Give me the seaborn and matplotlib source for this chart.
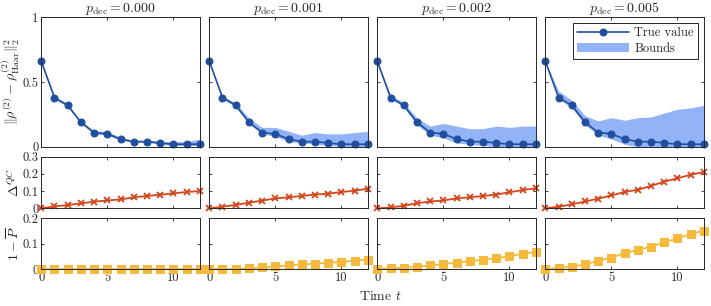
"""
Purity / distance / QC error over time for four decoherence rates
"""
import numpy as np
import pandas as pd
import matplotlib
matplotlib.use("Agg")
import matplotlib.pyplot as plt
import seaborn as sns

# ---- data ----
times = list(range(13))
p_dec = ["0.000", "0.001", "0.002", "0.005"]

true_value = [0.66, 0.38, 0.32, 0.19, 0.11, 0.10, 0.06, 0.04, 0.04, 0.03, 0.02, 0.02, 0.02]

bound_lo_0 = [0.66, 0.37, 0.31, 0.18, 0.10, 0.09, 0.05, 0.035, 0.035, 0.02, 0.01, 0.01, 0.01]
bound_hi_0 = [0.66, 0.39, 0.33, 0.20, 0.12, 0.12, 0.07, 0.05, 0.05, 0.04, 0.04, 0.04, 0.06]
bound_lo_1 = [0.66, 0.37, 0.31, 0.18, 0.10, 0.08, 0.04, 0.03, 0.02, 0.01, 0.005, 0.0, 0.0]
bound_hi_1 = [0.66, 0.39, 0.34, 0.22, 0.15, 0.15, 0.12, 0.09, 0.11, 0.10, 0.10, 0.11, 0.12]
bound_lo_2 = [0.66, 0.37, 0.31, 0.17, 0.09, 0.07, 0.03, 0.02, 0.01, 0.0, 0.0, 0.0, 0.0]
bound_hi_2 = [0.66, 0.40, 0.34, 0.22, 0.16, 0.18, 0.16, 0.14, 0.14, 0.16, 0.15, 0.16, 0.16]
bound_lo_3 = [0.66, 0.37, 0.30, 0.17, 0.09, 0.06, 0.02, 0.0, 0.0, 0.0, 0.0, 0.0, 0.0]
bound_hi_3 = [0.66, 0.43, 0.36, 0.24, 0.20, 0.225, 0.205, 0.225, 0.23, 0.26, 0.29, 0.30, 0.32]

delta_qc_0 = [0.0, 0.012, 0.019, 0.029, 0.039, 0.046, 0.052, 0.064, 0.072, 0.079, 0.087, 0.095, 0.100]
delta_qc_1 = [0.0, 0.010, 0.020, 0.033, 0.045, 0.058, 0.064, 0.072, 0.080, 0.085, 0.095, 0.102, 0.114]
delta_qc_2 = [0.0, 0.006, 0.015, 0.030, 0.040, 0.046, 0.058, 0.064, 0.072, 0.080, 0.093, 0.106, 0.116]
delta_qc_3 = [0.0, 0.010, 0.023, 0.040, 0.056, 0.075, 0.095, 0.108, 0.130, 0.155, 0.174, 0.195, 0.210]

infid_0 = [0.0] * 13
infid_1 = [0.0, 0.0, 0.0, 0.002, 0.006, 0.010, 0.014, 0.018, 0.021, 0.024, 0.028, 0.032, 0.037]
infid_2 = [0.0, 0.003, 0.005, 0.009, 0.014, 0.020, 0.025, 0.030, 0.036, 0.042, 0.050, 0.060, 0.067]
infid_3 = [0.0, 0.004, 0.009, 0.018, 0.033, 0.045, 0.062, 0.075, 0.088, 0.105, 0.120, 0.137, 0.151]

bounds_lo = [bound_lo_0, bound_lo_1, bound_lo_2, bound_lo_3]
bounds_hi = [bound_hi_0, bound_hi_1, bound_hi_2, bound_hi_3]
delta_qc = [delta_qc_0, delta_qc_1, delta_qc_2, delta_qc_3]
infid = [infid_0, infid_1, infid_2, infid_3]

blue = "#1f4f9e"
fill_blue = "#93b3f8"
red = "#d4461c"
yellow = "#f5b93c"

sns.set_style("ticks")
plt.rcParams['font.family'] = 'serif'
plt.rcParams['font.serif'] = ['cmr10', 'DejaVu Serif']
plt.rcParams['mathtext.fontset'] = 'cm'
plt.rcParams['axes.formatter.use_mathtext'] = True
plt.rcParams['font.size'] = 9
plt.rcParams['axes.edgecolor'] = '#262626'
plt.rcParams['axes.linewidth'] = 0.7

fig, axes = plt.subplots(3, 4, figsize=(7.11, 3.06), dpi=100,
                         gridspec_kw=dict(height_ratios=[130, 52, 51]))
fig.subplots_adjust(left=0.058, right=0.99, top=0.944, bottom=0.121,
                    hspace=0.125, wspace=0.06)

for j in range(4):
    df = pd.DataFrame({"t": times, "true": true_value,
                       "lo": bounds_lo[j], "hi": bounds_hi[j],
                       "dqc": delta_qc[j], "inf": infid[j]})

    ax = axes[0, j]
    ax.fill_between(df["t"], df["lo"], df["hi"], color=fill_blue, lw=0,
                    label="Bounds")
    sns.lineplot(data=df, x="t", y="true", ax=ax, color=blue, marker="o",
                 markersize=5, markeredgecolor=blue, lw=1.2, label="True value",
                 clip_on=False)
    ax.set_ylim(0, 1)
    ax.set_yticks([0, 0.5, 1])
    ax.set_yticklabels(["0", "0.5", "1"])
    ax.set_title(r"$p_{\mathrm{dec}} = %s$" % p_dec[j], fontsize=10, pad=2)

    ax = axes[1, j]
    sns.lineplot(data=df, x="t", y="dqc", ax=ax, color=red, marker="x",
                 markersize=5, markeredgewidth=1.3, markeredgecolor=red, lw=1.3,
                 clip_on=False)
    ax.set_ylim(0, 0.3)
    ax.set_yticks([0, 0.1, 0.2, 0.3])
    ax.set_yticklabels(["0", "0.1", "0.2", "0.3"])

    ax = axes[2, j]
    sns.lineplot(data=df, x="t", y="inf", ax=ax, color=yellow, marker="s",
                 markersize=6, markeredgecolor=yellow, lw=1.3, clip_on=False)
    ax.set_ylim(0, 0.2)
    ax.set_yticks([0, 0.1, 0.2])
    ax.set_yticklabels(["0", "0.1", "0.2"])

for i in range(3):
    for j in range(4):
        ax = axes[i, j]
        ax.set_xlim(0, 12)
        ax.set_xticks([0, 5, 10])
        ax.tick_params(direction="in", top=True, right=True, length=2.5,
                       width=0.6, labelsize=9, pad=2)
        ax.set_xlabel("")
        ax.set_ylabel("")
        if j > 0:
            ax.set_yticklabels([])
        if i < 2:
            ax.set_xticklabels([])
        else:
            ax.set_xticklabels(["0", "5", "10"])
        if ax.get_legend() is not None:
            ax.get_legend().remove()

axes[0, 0].set_ylabel(r"$\|\rho^{(2)} - \rho^{(2)}_{\mathrm{Haar}}\|_2^2$", fontsize=10, labelpad=0)
axes[1, 0].set_ylabel(r"$\Delta^{QC}$", fontsize=10, labelpad=0)
axes[2, 0].set_ylabel(r"$1 - \overline{P}$", fontsize=10, labelpad=0)
fig.align_ylabels(axes[:, 0])

h, l = axes[0, 3].get_legend_handles_labels()
order = [l.index("True value"), l.index("Bounds")]
leg = axes[0, 3].legend([h[k] for k in order], [l[k] for k in order],
                        loc="upper right", fancybox=False, framealpha=1,
                        edgecolor="#262626", fontsize=9, handlelength=4.2,
                        borderpad=0.3, labelspacing=0.3, handletextpad=0.4)
leg.get_frame().set_linewidth(0.7)

fig.text(0.535, 0.01, r"Time $t$", ha="center", va="bottom", fontsize=10)

fig.savefig("out.png", dpi=100)
